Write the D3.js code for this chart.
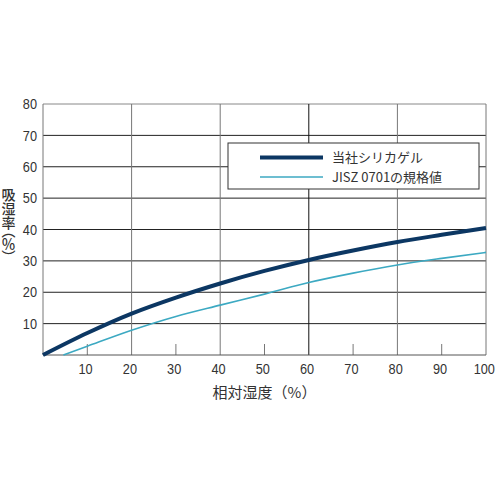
<!DOCTYPE html>
<html>
<head>
<meta charset="utf-8">
<script src="https://cdn.jsdelivr.net/npm/d3@7"></script>
<style>
  body { margin: 0; background: #fff; }
  svg text { font-family: "Liberation Sans", "Noto Sans CJK JP", sans-serif; fill: #333; }
  .cjk { font-family: "Noto Sans CJK JP", sans-serif; }
  .vtitle { writing-mode: vertical-rl; font-feature-settings: "vpal" 1; }
</style>
</head>
<body>
<svg id="chart" width="500" height="500"></svg>
<script>
// humidity points (%)
var humidity = [0, 10, 20, 30, 40, 50, 60, 70, 80, 90, 100]
// our silica gel
var silicaGel = [0, 7.0, 13.2, 18.3, 22.8, 26.8, 30.3, 33.3, 36.0, 38.3, 40.5]
// JIS Z 0701 standard, starts above 0% RH
var jisHumidity = [4.6, 10, 20, 30, 40, 50, 60, 70, 80, 90, 100]
var jisValues = [0, 2.8, 7.9, 12.3, 15.9, 19.4, 23.1, 26.1, 28.7, 30.8, 32.7]

var xTicks = [10, 20, 30, 40, 50, 60, 70, 80, 90, 100]
var yTicks = [10, 20, 30, 40, 50, 60, 70, 80]
var legendLabels = ['当社シリカゲル', 'JISZ 0701の規格値']
var yTitle = '吸湿率（％）'
var xTitle = '相対湿度（%）'

var margin = {top: 104, right: 14, bottom: 145, left: 43}
var width = 500 - margin.left - margin.right
var height = 500 - margin.top - margin.bottom

var x = d3.scaleLinear().domain([0, 100]).range([0, width])
var y = d3.scaleLinear().domain([0, 80]).range([height, 0])

var svg = d3.select('#chart')
  .append('g')
    .attr('transform', 'translate(' + margin.left + ',' + margin.top + ')')

// horizontal grid
svg.selectAll('.hgrid')
    .data(yTicks)
  .enter().append('line')
    .attr('x1', 0)
    .attr('x2', width)
    .attr('y1', function (d) { return y(d) })
    .attr('y2', function (d) { return y(d) })
    .attr('stroke', function (d) { return d === 80 ? '#888' : '#222' })
    .attr('stroke-width', 1)

// vertical grid on the even ticks, short ticks on the odd ones
svg.selectAll('.vgrid')
    .data(xTicks)
  .enter().append('line')
    .attr('x1', function (d) { return x(d) })
    .attr('x2', function (d) { return x(d) })
    .attr('y1', function (d) { return d % 20 === 0 ? 0 : height - 11 })
    .attr('y2', height)
    .attr('stroke', function (d) { return d === 60 ? '#111' : '#777' })
    .attr('stroke-width', 1)

// frame
svg.append('line')
    .attr('x1', 0).attr('x2', 0)
    .attr('y1', 0).attr('y2', height)
    .attr('stroke', '#777')
svg.append('line')
    .attr('x1', 0).attr('x2', width)
    .attr('y1', height).attr('y2', height)
    .attr('stroke', '#555')

// y tick labels
svg.selectAll('.ylab')
    .data(yTicks)
  .enter().append('text')
    .attr('x', -6)
    .attr('y', function (d) { return y(d) })
    .attr('dy', '0.35em')
    .attr('text-anchor', 'end')
    .attr('font-size', 15)
    .attr('transform', function (d) { return 'translate(-6,' + y(d) + ') scale(0.85,1) translate(6,' + -y(d) + ')' })
    .text(function (d) { return d })

// x tick labels
svg.selectAll('.xlab')
    .data(xTicks)
  .enter().append('text')
    .attr('x', function (d) { return x(d) - 2 })
    .attr('y', height + 19)
    .attr('text-anchor', 'middle')
    .attr('font-size', 15)
    .attr('transform', function (d) { return 'translate(' + x(d) + ',0) scale(0.85,1) translate(' + -x(d) + ',0)' })
    .text(function (d) { return d })

// axis titles
svg.append('text')
    .attr('class', 'cjk')
    .attr('x', width / 2)
    .attr('y', height + 43)
    .attr('text-anchor', 'middle')
    .attr('font-size', 15)
    .text(xTitle)

svg.append('text')
    .attr('class', 'cjk vtitle')
    .attr('x', 8.5 - margin.left)
    .attr('y', 188 - margin.top)
    .attr('font-size', 14)
    .attr('font-weight', 500)
    .text(yTitle)

// curves
var line = d3.line()
    .x(function (d) { return x(d[0]) })
    .y(function (d) { return y(d[1]) })
    .curve(d3.curveMonotoneX)

svg.append('path')
    .datum(d3.zip(jisHumidity, jisValues))
    .attr('fill', 'none')
    .attr('stroke', '#3ca9c2')
    .attr('stroke-width', 1.6)
    .attr('d', line)

svg.append('path')
    .datum(d3.zip(humidity, silicaGel))
    .attr('fill', 'none')
    .attr('stroke', '#0c3763')
    .attr('stroke-width', 4)
    .attr('d', line)

// legend
var legend = svg.append('g')
    .attr('transform', 'translate(' + (228 - margin.left) + ',' + (143 - margin.top) + ')')

legend.append('rect')
    .attr('width', 251)
    .attr('height', 46)
    .attr('fill', '#fff')
    .attr('stroke', '#333')

var legendStyles = [
  {color: '#0c3763', w: 4},
  {color: '#3ca9c2', w: 1.6}
]

legendLabels.forEach(function (label, i) {
  var ly = 14.5 + i * 19.5
  legend.append('line')
    .attr('x1', 32).attr('x2', 95)
    .attr('y1', ly).attr('y2', ly)
    .attr('stroke', legendStyles[i].color)
    .attr('stroke-width', legendStyles[i].w)
  legend.append('text')
    .attr('class', 'cjk')
    .attr('x', 104)
    .attr('y', ly)
    .attr('dy', '0.35em')
    .attr('font-size', 13)
    .text(label)
})
</script>
</body>
</html>
